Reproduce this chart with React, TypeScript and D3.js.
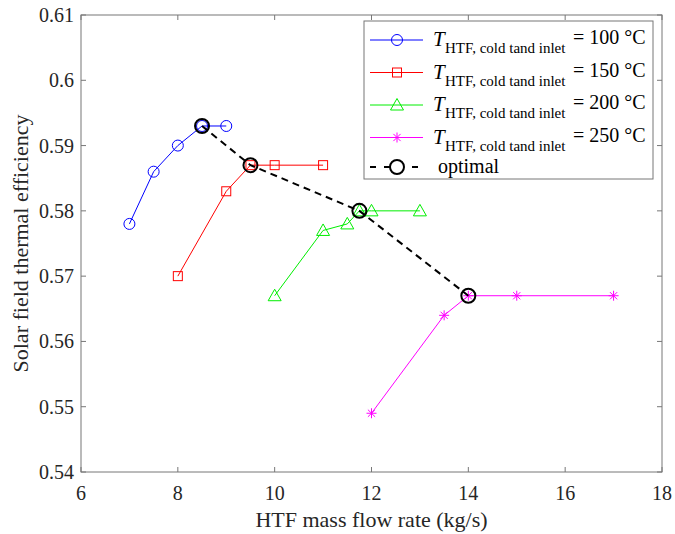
import React from "react";
import * as d3 from "d3";

// mass flow rate (kg/s) and efficiency per inlet temperature
const flow100 = [7, 7.5, 8, 8.5, 9];
const eff100 = [0.578, 0.586, 0.59, 0.593, 0.593];
const flow150 = [8, 9, 9.5, 10, 11];
const eff150 = [0.57, 0.583, 0.587, 0.587, 0.587];
const flow200 = [10, 11, 11.5, 11.75, 12, 13];
const eff200 = [0.567, 0.577, 0.578, 0.58, 0.58, 0.58];
const flow250 = [12, 13.5, 14, 15, 17];
const eff250 = [0.549, 0.564, 0.567, 0.567, 0.567];
const optFlow = [8.5, 9.5, 11.75, 14];
const optEff = [0.593, 0.587, 0.58, 0.567];

const temps = ["100", "150", "200", "250"];
const xTicks = [6, 8, 10, 12, 14, 16, 18];
const yTicks = [0.54, 0.55, 0.56, 0.57, 0.58, 0.59, 0.6, 0.61];

const W = 675;
const H = 534;
const margin = { top: 15, right: 13, bottom: 62, left: 81 };
const FONT = "Liberation Serif, Times New Roman, serif";
const AXIS = "#777";

type Pt = [number, number];

const zip = (xs: number[], ys: number[]): Pt[] => xs.map((x, i) => [x, ys[i]]);

const series = [
  { pts: zip(flow100, eff100), color: "#0000ff", marker: "circle" },
  { pts: zip(flow150, eff150), color: "#ff0000", marker: "square" },
  { pts: zip(flow200, eff200), color: "#00ee00", marker: "triangle" },
  { pts: zip(flow250, eff250), color: "#ff00ff", marker: "star" },
];

function Marker({ kind, x, y, color }: { kind: string; x: number; y: number; color: string }) {
  if (kind === "circle")
    return <circle cx={x} cy={y} r={5.5} fill="none" stroke={color} strokeWidth={1} />;
  if (kind === "square")
    return <rect x={x - 4.5} y={y - 4.5} width={9} height={9} fill="none" stroke={color} strokeWidth={1} />;
  if (kind === "triangle")
    return (
      <path
        d={`M${x},${y - 6.5}L${x + 6.5},${y + 5}L${x - 6.5},${y + 5}Z`}
        fill="none"
        stroke={color}
        strokeWidth={1}
      />
    );
  const s = 5;
  const d = 3.6;
  return (
    <path
      d={`M${x},${y - s}V${y + s}M${x - s},${y}H${x + s}M${x - d},${y - d}L${x + d},${y + d}M${x - d},${y + d}L${x + d},${y - d}`}
      stroke={color}
      strokeWidth={1}
    />
  );
}

export default function App() {
  const iw = W - margin.left - margin.right;
  const ih = H - margin.top - margin.bottom;
  const x = d3.scaleLinear().domain([6, 18]).range([margin.left, margin.left + iw]);
  const y = d3.scaleLinear().domain([0.54, 0.61]).range([margin.top + ih, margin.top]);
  const line = d3
    .line<Pt>()
    .x((d) => x(d[0]))
    .y((d) => y(d[1]));

  const x0 = margin.left;
  const x1 = margin.left + iw;
  const y0 = margin.top;
  const y1 = margin.top + ih;

  // legend
  const lgX = 364;
  const lgY = 21;
  const rows = [40, 72.5, 105, 137.5, 167];

  return (
    <svg
      width={W}
      height={H}
      style={{ position: "absolute", left: 0, top: 0, background: "#fff", fontFamily: FONT }}
    >
      <rect x={0} y={0} width={W} height={H} fill="#fff" />

      {/* ticks, mirrored on all sides */}
      {xTicks.map((t) => (
        <g key={"xt" + t}>
          <line x1={x(t)} x2={x(t)} y1={y1} y2={y1 - 5} stroke={AXIS} />
          <line x1={x(t)} x2={x(t)} y1={y0} y2={y0 + 5} stroke={AXIS} />
          <text x={x(t)} y={y1 + 28} textAnchor="middle" fontSize={20} fill="#262626">
            {t}
          </text>
        </g>
      ))}
      {yTicks.map((t) => (
        <g key={"yt" + t}>
          <line x1={x0} x2={x0 + 5} y1={y(t)} y2={y(t)} stroke={AXIS} />
          <line x1={x1} x2={x1 - 5} y1={y(t)} y2={y(t)} stroke={AXIS} />
          <text x={x0 - 7} y={y(t) + 7} textAnchor="end" fontSize={20} fill="#262626">
            {d3.format("")(+t.toFixed(2))}
          </text>
        </g>
      ))}
      <rect x={x0} y={y0} width={iw} height={ih} fill="none" stroke={AXIS} strokeWidth={1} />

      {/* series */}
      {series.map((s, i) => (
        <g key={"s" + i}>
          <path d={line(s.pts) || ""} fill="none" stroke={s.color} strokeWidth={1} />
          {s.pts.map((p, j) => (
            <Marker key={j} kind={s.marker} x={x(p[0])} y={y(p[1])} color={s.color} />
          ))}
        </g>
      ))}

      {/* optimal */}
      <path
        d={line(zip(optFlow, optEff)) || ""}
        fill="none"
        stroke="#000"
        strokeWidth={2}
        strokeDasharray="7,5"
      />
      {optFlow.map((f, i) => (
        <circle key={"o" + i} cx={x(f)} cy={y(optEff[i])} r={7} fill="none" stroke="#000" strokeWidth={2} />
      ))}

      {/* axis titles */}
      <text x={(x0 + x1) / 2} y={H - 7} textAnchor="middle" fontSize={22} fill="#262626">
        HTF mass flow rate (kg/s)
      </text>
      <text
        transform={`translate(28,${(y0 + y1) / 2}) rotate(-90)`}
        textAnchor="middle"
        fontSize={22}
        fill="#262626"
      >
        Solar field thermal efficiency
      </text>

      {/* legend */}
      <rect x={lgX} y={lgY} width={289} height={158} fill="#fff" stroke={AXIS} strokeWidth={1} />
      {series.map((s, i) => (
        <g key={"lg" + i}>
          <line x1={370} x2={423} y1={rows[i]} y2={rows[i]} stroke={s.color} strokeWidth={1} />
          <Marker kind={s.marker} x={397} y={rows[i]} color={s.color} />
          <text x={433} y={rows[i] + 6} fontSize={21} fill="#000" fontStyle="italic">
            T
          </text>
          <text x={445} y={rows[i] + 13} fontSize={15} fill="#000">
            HTF, cold tand inlet
          </text>
          <text x={573} y={rows[i] + 4} fontSize={20} fill="#000">
            {`= ${temps[i]} °C`}
          </text>
        </g>
      ))}
      <line x1={370} x2={423} y1={rows[4]} y2={rows[4]} stroke="#000" strokeWidth={2} strokeDasharray="6,8" />
      <circle cx={397} cy={rows[4]} r={7} fill="#fff" stroke="#000" strokeWidth={2} />
      <text x={438} y={rows[4] + 6} fontSize={20} fill="#000">
        optimal
      </text>
    </svg>
  );
}
